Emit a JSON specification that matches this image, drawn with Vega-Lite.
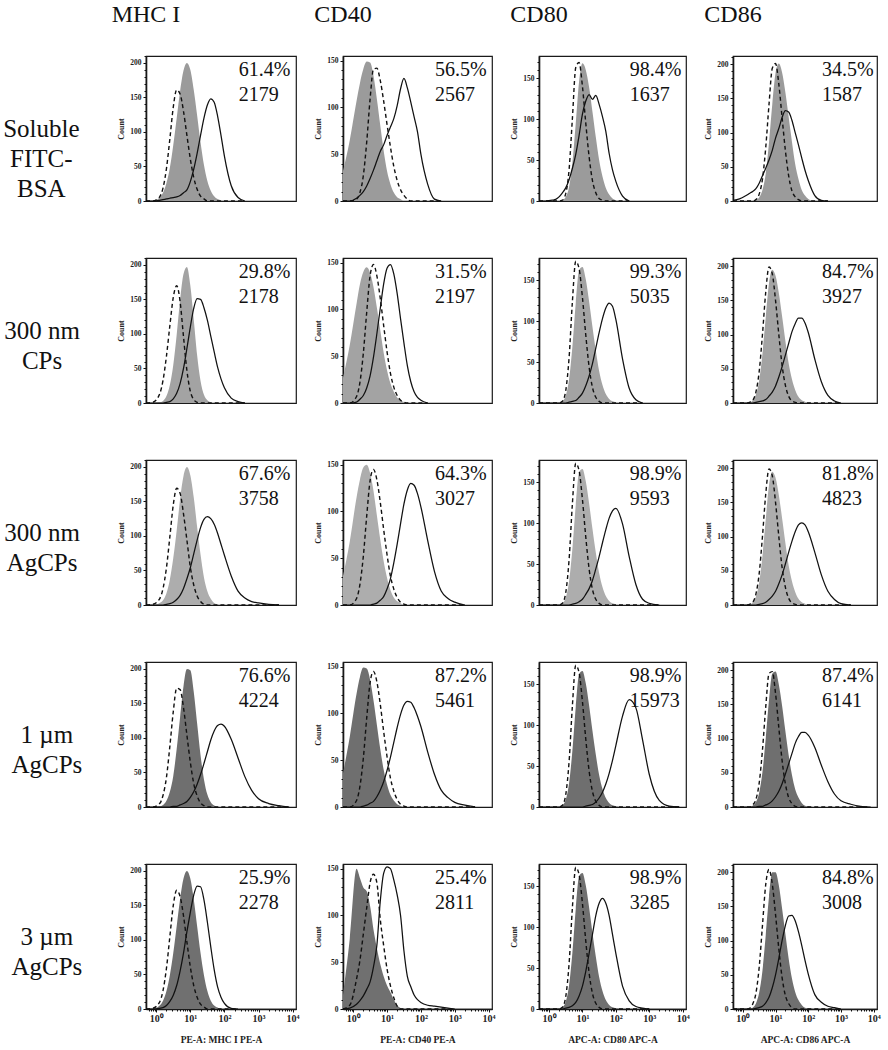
{
"$schema":"https://vega.github.io/schema/vega-lite/v6.json",
"padding":{"left":3,"top":3,"right":5,"bottom":0},
"spacing":14,
"datasets":{"h":[
{"r":1,"c":1,"x":-0.3,"f":0,"d":0,"o":0},{"r":1,"c":1,"x":-0.1,"f":0,"d":0,"o":0},{"r":1,"c":1,"x":0.1,"f":5,"d":6,"o":1},{"r":1,"c":1,"x":0.2,"f":12,"d":19,"o":2},{"r":1,"c":1,"x":0.3,"f":26,"d":47,"o":3},{"r":1,"c":1,"x":0.4,"f":48,"d":90,"o":4},{"r":1,"c":1,"x":0.5,"f":81,"d":136,"o":5},{"r":1,"c":1,"x":0.6,"f":120,"d":161,"o":6},{"r":1,"c":1,"x":0.7,"f":159,"d":155,"o":8},{"r":1,"c":1,"x":0.8,"f":189,"d":130,"o":12},{"r":1,"c":1,"x":0.9,"f":200,"d":95,"o":16},{"r":1,"c":1,"x":1.0,"f":190,"d":61,"o":28},{"r":1,"c":1,"x":1.1,"f":161,"d":34,"o":46},{"r":1,"c":1,"x":1.2,"f":124,"d":17,"o":69},{"r":1,"c":1,"x":1.3,"f":85,"d":7,"o":95},{"r":1,"c":1,"x":1.4,"f":52,"d":3,"o":120},{"r":1,"c":1,"x":1.5,"f":29,"d":0,"o":139},{"r":1,"c":1,"x":1.6,"f":15,"d":0,"o":148},{"r":1,"c":1,"x":1.7,"f":7,"d":0,"o":143},{"r":1,"c":1,"x":1.8,"f":3,"d":0,"o":123},{"r":1,"c":1,"x":1.9,"f":1,"d":0,"o":95},{"r":1,"c":1,"x":2.0,"f":0,"d":0,"o":65},{"r":1,"c":1,"x":2.2,"f":0,"d":0,"o":22},{"r":1,"c":1,"x":2.4,"f":0,"d":0,"o":5},{"r":1,"c":1,"x":2.6,"f":0,"d":0,"o":0},
{"r":1,"c":2,"x":-0.3,"f":32,"d":0,"o":0},{"r":1,"c":2,"x":-0.1,"f":65,"d":0,"o":0},{"r":1,"c":2,"x":0.1,"f":107,"d":2,"o":3},{"r":1,"c":2,"x":0.2,"f":126,"d":9,"o":6},{"r":1,"c":2,"x":0.3,"f":141,"d":27,"o":10},{"r":1,"c":2,"x":0.4,"f":149,"d":63,"o":16},{"r":1,"c":2,"x":0.5,"f":148,"d":109,"o":24},{"r":1,"c":2,"x":0.6,"f":134,"d":141,"o":33},{"r":1,"c":2,"x":0.7,"f":109,"d":142,"o":43},{"r":1,"c":2,"x":0.8,"f":81,"d":129,"o":53},{"r":1,"c":2,"x":0.9,"f":54,"d":107,"o":60},{"r":1,"c":2,"x":1.0,"f":32,"d":82,"o":70},{"r":1,"c":2,"x":1.1,"f":18,"d":58,"o":79},{"r":1,"c":2,"x":1.2,"f":9,"d":37,"o":88},{"r":1,"c":2,"x":1.3,"f":4,"d":22,"o":102},{"r":1,"c":2,"x":1.4,"f":2,"d":12,"o":120},{"r":1,"c":2,"x":1.5,"f":0,"d":6,"o":131},{"r":1,"c":2,"x":1.6,"f":0,"d":2,"o":121},{"r":1,"c":2,"x":1.7,"f":0,"d":0,"o":106},{"r":1,"c":2,"x":1.8,"f":0,"d":0,"o":90},{"r":1,"c":2,"x":1.9,"f":0,"d":0,"o":74},{"r":1,"c":2,"x":2.0,"f":0,"d":0,"o":50},{"r":1,"c":2,"x":2.2,"f":0,"d":0,"o":18},{"r":1,"c":2,"x":2.4,"f":0,"d":0,"o":2},{"r":1,"c":2,"x":2.6,"f":0,"d":0,"o":0},
{"r":1,"c":3,"x":-0.3,"f":0,"d":0,"o":0},{"r":1,"c":3,"x":-0.1,"f":0,"d":0,"o":0},{"r":1,"c":3,"x":0.1,"f":0,"d":0,"o":1},{"r":1,"c":3,"x":0.2,"f":0,"d":0,"o":2},{"r":1,"c":3,"x":0.3,"f":0,"d":0,"o":5},{"r":1,"c":3,"x":0.4,"f":1,"d":1,"o":10},{"r":1,"c":3,"x":0.5,"f":5,"d":9,"o":16},{"r":1,"c":3,"x":0.6,"f":17,"d":38,"o":26},{"r":1,"c":3,"x":0.7,"f":47,"d":101,"o":40},{"r":1,"c":3,"x":0.8,"f":95,"d":163,"o":57},{"r":1,"c":3,"x":0.9,"f":146,"d":169,"o":80},{"r":1,"c":3,"x":1.0,"f":168,"d":140,"o":106},{"r":1,"c":3,"x":1.1,"f":160,"d":95,"o":122},{"r":1,"c":3,"x":1.2,"f":139,"d":54,"o":130},{"r":1,"c":3,"x":1.3,"f":109,"d":25,"o":124},{"r":1,"c":3,"x":1.4,"f":78,"d":10,"o":129},{"r":1,"c":3,"x":1.5,"f":50,"d":3,"o":118},{"r":1,"c":3,"x":1.6,"f":30,"d":1,"o":103},{"r":1,"c":3,"x":1.7,"f":16,"d":0,"o":85},{"r":1,"c":3,"x":1.8,"f":8,"d":0,"o":58},{"r":1,"c":3,"x":1.9,"f":3,"d":0,"o":38},{"r":1,"c":3,"x":2.0,"f":1,"d":0,"o":24},{"r":1,"c":3,"x":2.2,"f":0,"d":0,"o":6},{"r":1,"c":3,"x":2.4,"f":0,"d":0,"o":0},
{"r":1,"c":4,"x":-0.3,"f":0,"d":0,"o":1},{"r":1,"c":4,"x":-0.1,"f":0,"d":0,"o":3},{"r":1,"c":4,"x":0.1,"f":0,"d":0,"o":8},{"r":1,"c":4,"x":0.2,"f":0,"d":0,"o":11},{"r":1,"c":4,"x":0.3,"f":0,"d":0,"o":14},{"r":1,"c":4,"x":0.4,"f":1,"d":2,"o":18},{"r":1,"c":4,"x":0.5,"f":5,"d":10,"o":26},{"r":1,"c":4,"x":0.6,"f":16,"d":32,"o":37},{"r":1,"c":4,"x":0.7,"f":40,"d":78,"o":48},{"r":1,"c":4,"x":0.8,"f":85,"d":141,"o":60},{"r":1,"c":4,"x":0.9,"f":141,"d":194,"o":74},{"r":1,"c":4,"x":1.0,"f":187,"d":201,"o":92},{"r":1,"c":4,"x":1.1,"f":201,"d":171,"o":106},{"r":1,"c":4,"x":1.2,"f":188,"d":122,"o":122},{"r":1,"c":4,"x":1.3,"f":159,"d":74,"o":132},{"r":1,"c":4,"x":1.4,"f":123,"d":37,"o":130},{"r":1,"c":4,"x":1.5,"f":87,"d":15,"o":118},{"r":1,"c":4,"x":1.6,"f":54,"d":6,"o":100},{"r":1,"c":4,"x":1.7,"f":32,"d":2,"o":82},{"r":1,"c":4,"x":1.8,"f":16,"d":0,"o":63},{"r":1,"c":4,"x":1.9,"f":8,"d":0,"o":45},{"r":1,"c":4,"x":2.0,"f":3,"d":0,"o":30},{"r":1,"c":4,"x":2.2,"f":0,"d":0,"o":8},{"r":1,"c":4,"x":2.4,"f":0,"d":0,"o":1},{"r":1,"c":4,"x":2.6,"f":0,"d":0,"o":0},
{"r":2,"c":1,"x":-0.3,"f":0,"d":0,"o":0},{"r":2,"c":1,"x":-0.1,"f":0,"d":1,"o":0},{"r":2,"c":1,"x":0.1,"f":1,"d":13,"o":0},{"r":2,"c":1,"x":0.2,"f":3,"d":33,"o":0},{"r":2,"c":1,"x":0.3,"f":10,"d":68,"o":1},{"r":2,"c":1,"x":0.4,"f":26,"d":112,"o":2},{"r":2,"c":1,"x":0.5,"f":55,"d":153,"o":6},{"r":2,"c":1,"x":0.6,"f":99,"d":170,"o":14},{"r":2,"c":1,"x":0.7,"f":149,"d":147,"o":28},{"r":2,"c":1,"x":0.8,"f":187,"d":96,"o":50},{"r":2,"c":1,"x":0.9,"f":197,"d":47,"o":79},{"r":2,"c":1,"x":1.0,"f":170,"d":17,"o":110},{"r":2,"c":1,"x":1.1,"f":121,"d":5,"o":137},{"r":2,"c":1,"x":1.2,"f":69,"d":1,"o":151},{"r":2,"c":1,"x":1.3,"f":32,"d":0,"o":150},{"r":2,"c":1,"x":1.4,"f":12,"d":0,"o":138},{"r":2,"c":1,"x":1.5,"f":4,"d":0,"o":120},{"r":2,"c":1,"x":1.6,"f":1,"d":0,"o":97},{"r":2,"c":1,"x":1.7,"f":0,"d":0,"o":74},{"r":2,"c":1,"x":1.8,"f":0,"d":0,"o":52},{"r":2,"c":1,"x":1.9,"f":0,"d":0,"o":35},{"r":2,"c":1,"x":2.0,"f":0,"d":0,"o":22},{"r":2,"c":1,"x":2.2,"f":0,"d":0,"o":7},{"r":2,"c":1,"x":2.4,"f":0,"d":0,"o":2},{"r":2,"c":1,"x":2.6,"f":0,"d":0,"o":0},
{"r":2,"c":2,"x":-0.3,"f":27,"d":0,"o":0},{"r":2,"c":2,"x":-0.1,"f":62,"d":0,"o":0},{"r":2,"c":2,"x":0.1,"f":106,"d":7,"o":1},{"r":2,"c":2,"x":0.2,"f":127,"d":22,"o":4},{"r":2,"c":2,"x":0.3,"f":140,"d":53,"o":8},{"r":2,"c":2,"x":0.4,"f":145,"d":97,"o":16},{"r":2,"c":2,"x":0.5,"f":139,"d":136,"o":29},{"r":2,"c":2,"x":0.6,"f":124,"d":148,"o":49},{"r":2,"c":2,"x":0.7,"f":102,"d":136,"o":74},{"r":2,"c":2,"x":0.8,"f":78,"d":112,"o":101},{"r":2,"c":2,"x":0.9,"f":54,"d":83,"o":127},{"r":2,"c":2,"x":1.0,"f":35,"d":55,"o":144},{"r":2,"c":2,"x":1.1,"f":21,"d":32,"o":148},{"r":2,"c":2,"x":1.2,"f":12,"d":17,"o":138},{"r":2,"c":2,"x":1.3,"f":6,"d":8,"o":117},{"r":2,"c":2,"x":1.4,"f":3,"d":3,"o":90},{"r":2,"c":2,"x":1.5,"f":1,"d":1,"o":64},{"r":2,"c":2,"x":1.6,"f":0,"d":0,"o":40},{"r":2,"c":2,"x":1.7,"f":0,"d":0,"o":23},{"r":2,"c":2,"x":1.8,"f":0,"d":0,"o":12},{"r":2,"c":2,"x":1.9,"f":0,"d":0,"o":6},{"r":2,"c":2,"x":2.0,"f":0,"d":0,"o":3},{"r":2,"c":2,"x":2.2,"f":0,"d":0,"o":0},
{"r":2,"c":3,"x":-0.3,"f":0,"d":0,"o":0},{"r":2,"c":3,"x":-0.1,"f":0,"d":0,"o":0},{"r":2,"c":3,"x":0.1,"f":0,"d":0,"o":0},{"r":2,"c":3,"x":0.2,"f":0,"d":0,"o":0},{"r":2,"c":3,"x":0.3,"f":0,"d":0,"o":0},{"r":2,"c":3,"x":0.4,"f":2,"d":2,"o":0},{"r":2,"c":3,"x":0.5,"f":9,"d":15,"o":0},{"r":2,"c":3,"x":0.6,"f":29,"d":55,"o":1},{"r":2,"c":3,"x":0.7,"f":69,"d":124,"o":2},{"r":2,"c":3,"x":0.8,"f":122,"d":173,"o":3},{"r":2,"c":3,"x":0.9,"f":162,"d":164,"o":7},{"r":2,"c":3,"x":1.0,"f":166,"d":129,"o":12},{"r":2,"c":3,"x":1.1,"f":151,"d":83,"o":21},{"r":2,"c":3,"x":1.2,"f":124,"d":44,"o":33},{"r":2,"c":3,"x":1.3,"f":93,"d":19,"o":48},{"r":2,"c":3,"x":1.4,"f":64,"d":7,"o":67},{"r":2,"c":3,"x":1.5,"f":39,"d":2,"o":86},{"r":2,"c":3,"x":1.6,"f":22,"d":0,"o":103},{"r":2,"c":3,"x":1.7,"f":11,"d":0,"o":116},{"r":2,"c":3,"x":1.8,"f":5,"d":0,"o":122},{"r":2,"c":3,"x":1.9,"f":2,"d":0,"o":118},{"r":2,"c":3,"x":2.0,"f":1,"d":0,"o":102},{"r":2,"c":3,"x":2.2,"f":0,"d":0,"o":54},{"r":2,"c":3,"x":2.4,"f":0,"d":0,"o":18},{"r":2,"c":3,"x":2.6,"f":0,"d":0,"o":4},{"r":2,"c":3,"x":2.8,"f":0,"d":0,"o":0},
{"r":2,"c":4,"x":-0.3,"f":0,"d":0,"o":0},{"r":2,"c":4,"x":-0.1,"f":0,"d":0,"o":0},{"r":2,"c":4,"x":0.1,"f":0,"d":0,"o":0},{"r":2,"c":4,"x":0.2,"f":0,"d":1,"o":0},{"r":2,"c":4,"x":0.3,"f":4,"d":4,"o":0},{"r":2,"c":4,"x":0.4,"f":12,"d":16,"o":1},{"r":2,"c":4,"x":0.5,"f":33,"d":46,"o":2},{"r":2,"c":4,"x":0.6,"f":72,"d":100,"o":3},{"r":2,"c":4,"x":0.7,"f":125,"d":162,"o":5},{"r":2,"c":4,"x":0.8,"f":175,"d":199,"o":10},{"r":2,"c":4,"x":0.9,"f":195,"d":189,"o":16},{"r":2,"c":4,"x":1.0,"f":186,"d":150,"o":25},{"r":2,"c":4,"x":1.1,"f":161,"d":100,"o":38},{"r":2,"c":4,"x":1.2,"f":127,"d":55,"o":53},{"r":2,"c":4,"x":1.3,"f":91,"d":26,"o":70},{"r":2,"c":4,"x":1.4,"f":58,"d":10,"o":87},{"r":2,"c":4,"x":1.5,"f":35,"d":3,"o":104},{"r":2,"c":4,"x":1.6,"f":19,"d":1,"o":116},{"r":2,"c":4,"x":1.7,"f":9,"d":0,"o":124},{"r":2,"c":4,"x":1.8,"f":4,"d":0,"o":124},{"r":2,"c":4,"x":1.9,"f":2,"d":0,"o":117},{"r":2,"c":4,"x":2.0,"f":0,"d":0,"o":103},{"r":2,"c":4,"x":2.2,"f":0,"d":0,"o":64},{"r":2,"c":4,"x":2.4,"f":0,"d":0,"o":31},{"r":2,"c":4,"x":2.6,"f":0,"d":0,"o":11},{"r":2,"c":4,"x":2.8,"f":0,"d":0,"o":3},{"r":2,"c":4,"x":3.0,"f":0,"d":0,"o":0},
{"r":3,"c":1,"x":-0.3,"f":0,"d":0,"o":0},{"r":3,"c":1,"x":-0.1,"f":0,"d":1,"o":0},{"r":3,"c":1,"x":0.1,"f":3,"d":9,"o":0},{"r":3,"c":1,"x":0.2,"f":7,"d":24,"o":0},{"r":3,"c":1,"x":0.3,"f":17,"d":54,"o":1},{"r":3,"c":1,"x":0.4,"f":37,"d":99,"o":2},{"r":3,"c":1,"x":0.5,"f":68,"d":145,"o":4},{"r":3,"c":1,"x":0.6,"f":108,"d":169,"o":8},{"r":3,"c":1,"x":0.7,"f":153,"d":162,"o":14},{"r":3,"c":1,"x":0.8,"f":187,"d":132,"o":24},{"r":3,"c":1,"x":0.9,"f":200,"d":94,"o":38},{"r":3,"c":1,"x":1.0,"f":188,"d":55,"o":54},{"r":3,"c":1,"x":1.1,"f":156,"d":29,"o":74},{"r":3,"c":1,"x":1.2,"f":113,"d":13,"o":94},{"r":3,"c":1,"x":1.3,"f":73,"d":5,"o":112},{"r":3,"c":1,"x":1.4,"f":40,"d":1,"o":124},{"r":3,"c":1,"x":1.5,"f":20,"d":0,"o":128},{"r":3,"c":1,"x":1.6,"f":9,"d":0,"o":125},{"r":3,"c":1,"x":1.7,"f":3,"d":0,"o":117},{"r":3,"c":1,"x":1.8,"f":1,"d":0,"o":104},{"r":3,"c":1,"x":1.9,"f":0,"d":0,"o":88},{"r":3,"c":1,"x":2.0,"f":0,"d":0,"o":72},{"r":3,"c":1,"x":2.2,"f":0,"d":0,"o":42},{"r":3,"c":1,"x":2.4,"f":0,"d":0,"o":20},{"r":3,"c":1,"x":2.6,"f":0,"d":0,"o":10},{"r":3,"c":1,"x":2.8,"f":0,"d":0,"o":5},{"r":3,"c":1,"x":3.0,"f":0,"d":0,"o":3},{"r":3,"c":1,"x":3.3,"f":0,"d":0,"o":1},{"r":3,"c":1,"x":3.6,"f":0,"d":0,"o":0},
{"r":3,"c":2,"x":-0.3,"f":31,"d":0,"o":0},{"r":3,"c":2,"x":-0.1,"f":68,"d":0,"o":0},{"r":3,"c":2,"x":0.1,"f":115,"d":7,"o":0},{"r":3,"c":2,"x":0.2,"f":134,"d":22,"o":0},{"r":3,"c":2,"x":0.3,"f":147,"d":52,"o":0},{"r":3,"c":2,"x":0.4,"f":150,"d":95,"o":0},{"r":3,"c":2,"x":0.5,"f":141,"d":133,"o":0},{"r":3,"c":2,"x":0.6,"f":122,"d":145,"o":1},{"r":3,"c":2,"x":0.7,"f":96,"d":134,"o":2},{"r":3,"c":2,"x":0.8,"f":70,"d":110,"o":5},{"r":3,"c":2,"x":0.9,"f":47,"d":81,"o":9},{"r":3,"c":2,"x":1.0,"f":29,"d":54,"o":17},{"r":3,"c":2,"x":1.1,"f":16,"d":31,"o":28},{"r":3,"c":2,"x":1.2,"f":8,"d":17,"o":45},{"r":3,"c":2,"x":1.3,"f":4,"d":8,"o":65},{"r":3,"c":2,"x":1.4,"f":2,"d":3,"o":87},{"r":3,"c":2,"x":1.5,"f":0,"d":1,"o":108},{"r":3,"c":2,"x":1.6,"f":0,"d":0,"o":123},{"r":3,"c":2,"x":1.7,"f":0,"d":0,"o":130},{"r":3,"c":2,"x":1.8,"f":0,"d":0,"o":128},{"r":3,"c":2,"x":1.9,"f":0,"d":0,"o":119},{"r":3,"c":2,"x":2.0,"f":0,"d":0,"o":105},{"r":3,"c":2,"x":2.2,"f":0,"d":0,"o":69},{"r":3,"c":2,"x":2.4,"f":0,"d":0,"o":36},{"r":3,"c":2,"x":2.6,"f":0,"d":0,"o":15},{"r":3,"c":2,"x":2.8,"f":0,"d":0,"o":7},{"r":3,"c":2,"x":3.0,"f":0,"d":0,"o":3},{"r":3,"c":2,"x":3.3,"f":0,"d":0,"o":0},
{"r":3,"c":3,"x":-0.3,"f":0,"d":0,"o":0},{"r":3,"c":3,"x":-0.1,"f":0,"d":0,"o":0},{"r":3,"c":3,"x":0.1,"f":0,"d":0,"o":0},{"r":3,"c":3,"x":0.2,"f":0,"d":0,"o":0},{"r":3,"c":3,"x":0.3,"f":0,"d":0,"o":0},{"r":3,"c":3,"x":0.4,"f":2,"d":2,"o":0},{"r":3,"c":3,"x":0.5,"f":9,"d":15,"o":0},{"r":3,"c":3,"x":0.6,"f":29,"d":55,"o":0},{"r":3,"c":3,"x":0.7,"f":69,"d":124,"o":1},{"r":3,"c":3,"x":0.8,"f":122,"d":173,"o":2},{"r":3,"c":3,"x":0.9,"f":162,"d":164,"o":4},{"r":3,"c":3,"x":1.0,"f":166,"d":129,"o":7},{"r":3,"c":3,"x":1.1,"f":151,"d":83,"o":13},{"r":3,"c":3,"x":1.2,"f":124,"d":44,"o":20},{"r":3,"c":3,"x":1.3,"f":93,"d":19,"o":30},{"r":3,"c":3,"x":1.4,"f":64,"d":7,"o":44},{"r":3,"c":3,"x":1.5,"f":39,"d":2,"o":59},{"r":3,"c":3,"x":1.6,"f":22,"d":0,"o":76},{"r":3,"c":3,"x":1.7,"f":11,"d":0,"o":92},{"r":3,"c":3,"x":1.8,"f":5,"d":0,"o":106},{"r":3,"c":3,"x":1.9,"f":2,"d":0,"o":115},{"r":3,"c":3,"x":2.0,"f":1,"d":0,"o":118},{"r":3,"c":3,"x":2.2,"f":0,"d":0,"o":99},{"r":3,"c":3,"x":2.4,"f":0,"d":0,"o":59},{"r":3,"c":3,"x":2.6,"f":0,"d":0,"o":25},{"r":3,"c":3,"x":2.8,"f":0,"d":0,"o":7},{"r":3,"c":3,"x":3.0,"f":0,"d":0,"o":2},{"r":3,"c":3,"x":3.3,"f":0,"d":0,"o":0},
{"r":3,"c":4,"x":-0.3,"f":0,"d":0,"o":0},{"r":3,"c":4,"x":-0.1,"f":0,"d":0,"o":0},{"r":3,"c":4,"x":0.1,"f":0,"d":0,"o":0},{"r":3,"c":4,"x":0.2,"f":0,"d":1,"o":0},{"r":3,"c":4,"x":0.3,"f":4,"d":4,"o":0},{"r":3,"c":4,"x":0.4,"f":12,"d":16,"o":0},{"r":3,"c":4,"x":0.5,"f":33,"d":46,"o":1},{"r":3,"c":4,"x":0.6,"f":72,"d":100,"o":2},{"r":3,"c":4,"x":0.7,"f":125,"d":162,"o":4},{"r":3,"c":4,"x":0.8,"f":175,"d":199,"o":8},{"r":3,"c":4,"x":0.9,"f":195,"d":189,"o":13},{"r":3,"c":4,"x":1.0,"f":186,"d":150,"o":20},{"r":3,"c":4,"x":1.1,"f":161,"d":100,"o":31},{"r":3,"c":4,"x":1.2,"f":127,"d":55,"o":44},{"r":3,"c":4,"x":1.3,"f":91,"d":26,"o":60},{"r":3,"c":4,"x":1.4,"f":58,"d":10,"o":77},{"r":3,"c":4,"x":1.5,"f":35,"d":3,"o":93},{"r":3,"c":4,"x":1.6,"f":19,"d":1,"o":107},{"r":3,"c":4,"x":1.7,"f":9,"d":0,"o":117},{"r":3,"c":4,"x":1.8,"f":4,"d":0,"o":120},{"r":3,"c":4,"x":1.9,"f":2,"d":0,"o":117},{"r":3,"c":4,"x":2.0,"f":0,"d":0,"o":107},{"r":3,"c":4,"x":2.2,"f":0,"d":0,"o":77},{"r":3,"c":4,"x":2.4,"f":0,"d":0,"o":44},{"r":3,"c":4,"x":2.6,"f":0,"d":0,"o":20},{"r":3,"c":4,"x":2.8,"f":0,"d":0,"o":8},{"r":3,"c":4,"x":3.0,"f":0,"d":0,"o":2},{"r":3,"c":4,"x":3.3,"f":0,"d":0,"o":0},
{"r":4,"c":1,"x":-0.3,"f":0,"d":0,"o":0},{"r":4,"c":1,"x":-0.1,"f":0,"d":0,"o":0},{"r":4,"c":1,"x":0.1,"f":1,"d":5,"o":0},{"r":4,"c":1,"x":0.2,"f":3,"d":17,"o":0},{"r":4,"c":1,"x":0.3,"f":9,"d":43,"o":0},{"r":4,"c":1,"x":0.4,"f":22,"d":88,"o":0},{"r":4,"c":1,"x":0.5,"f":45,"d":138,"o":1},{"r":4,"c":1,"x":0.6,"f":84,"d":172,"o":1},{"r":4,"c":1,"x":0.7,"f":130,"d":170,"o":3},{"r":4,"c":1,"x":0.8,"f":175,"d":144,"o":5},{"r":4,"c":1,"x":0.9,"f":200,"d":104,"o":8},{"r":4,"c":1,"x":1.0,"f":198,"d":65,"o":14},{"r":4,"c":1,"x":1.1,"f":167,"d":34,"o":22},{"r":4,"c":1,"x":1.2,"f":121,"d":16,"o":33},{"r":4,"c":1,"x":1.3,"f":75,"d":6,"o":47},{"r":4,"c":1,"x":1.4,"f":40,"d":2,"o":63},{"r":4,"c":1,"x":1.5,"f":18,"d":0,"o":80},{"r":4,"c":1,"x":1.6,"f":7,"d":0,"o":97},{"r":4,"c":1,"x":1.7,"f":2,"d":0,"o":110},{"r":4,"c":1,"x":1.8,"f":0,"d":0,"o":118},{"r":4,"c":1,"x":1.9,"f":0,"d":0,"o":120},{"r":4,"c":1,"x":2.0,"f":0,"d":0,"o":117},{"r":4,"c":1,"x":2.2,"f":0,"d":0,"o":98},{"r":4,"c":1,"x":2.4,"f":0,"d":0,"o":71},{"r":4,"c":1,"x":2.6,"f":0,"d":0,"o":44},{"r":4,"c":1,"x":2.8,"f":0,"d":0,"o":24},{"r":4,"c":1,"x":3.0,"f":0,"d":0,"o":12},{"r":4,"c":1,"x":3.3,"f":0,"d":0,"o":5},{"r":4,"c":1,"x":3.6,"f":0,"d":0,"o":2},{"r":4,"c":1,"x":3.9,"f":0,"d":0,"o":0},
{"r":4,"c":2,"x":-0.3,"f":36,"d":0,"o":0},{"r":4,"c":2,"x":-0.1,"f":75,"d":0,"o":0},{"r":4,"c":2,"x":0.1,"f":121,"d":7,"o":0},{"r":4,"c":2,"x":0.2,"f":139,"d":22,"o":0},{"r":4,"c":2,"x":0.3,"f":149,"d":52,"o":1},{"r":4,"c":2,"x":0.4,"f":148,"d":95,"o":2},{"r":4,"c":2,"x":0.5,"f":136,"d":133,"o":4},{"r":4,"c":2,"x":0.6,"f":114,"d":145,"o":6},{"r":4,"c":2,"x":0.7,"f":88,"d":134,"o":11},{"r":4,"c":2,"x":0.8,"f":62,"d":110,"o":18},{"r":4,"c":2,"x":0.9,"f":40,"d":81,"o":27},{"r":4,"c":2,"x":1.0,"f":24,"d":54,"o":39},{"r":4,"c":2,"x":1.1,"f":13,"d":31,"o":53},{"r":4,"c":2,"x":1.2,"f":7,"d":17,"o":69},{"r":4,"c":2,"x":1.3,"f":3,"d":8,"o":85},{"r":4,"c":2,"x":1.4,"f":1,"d":3,"o":99},{"r":4,"c":2,"x":1.5,"f":0,"d":1,"o":109},{"r":4,"c":2,"x":1.6,"f":0,"d":0,"o":113},{"r":4,"c":2,"x":1.7,"f":0,"d":0,"o":112},{"r":4,"c":2,"x":1.8,"f":0,"d":0,"o":106},{"r":4,"c":2,"x":1.9,"f":0,"d":0,"o":97},{"r":4,"c":2,"x":2.0,"f":0,"d":0,"o":86},{"r":4,"c":2,"x":2.2,"f":0,"d":0,"o":59},{"r":4,"c":2,"x":2.4,"f":0,"d":0,"o":35},{"r":4,"c":2,"x":2.6,"f":0,"d":0,"o":18},{"r":4,"c":2,"x":2.8,"f":0,"d":0,"o":10},{"r":4,"c":2,"x":3.0,"f":0,"d":0,"o":5},{"r":4,"c":2,"x":3.3,"f":0,"d":0,"o":2},{"r":4,"c":2,"x":3.6,"f":0,"d":0,"o":0},
{"r":4,"c":3,"x":-0.3,"f":0,"d":0,"o":0},{"r":4,"c":3,"x":-0.1,"f":0,"d":0,"o":0},{"r":4,"c":3,"x":0.1,"f":0,"d":0,"o":0},{"r":4,"c":3,"x":0.2,"f":0,"d":0,"o":0},{"r":4,"c":3,"x":0.3,"f":0,"d":0,"o":0},{"r":4,"c":3,"x":0.4,"f":2,"d":2,"o":0},{"r":4,"c":3,"x":0.5,"f":9,"d":15,"o":0},{"r":4,"c":3,"x":0.6,"f":29,"d":55,"o":0},{"r":4,"c":3,"x":0.7,"f":69,"d":124,"o":0},{"r":4,"c":3,"x":0.8,"f":122,"d":173,"o":0},{"r":4,"c":3,"x":0.9,"f":162,"d":164,"o":0},{"r":4,"c":3,"x":1.0,"f":166,"d":129,"o":0},{"r":4,"c":3,"x":1.1,"f":151,"d":83,"o":1},{"r":4,"c":3,"x":1.2,"f":124,"d":44,"o":2},{"r":4,"c":3,"x":1.3,"f":93,"d":19,"o":3},{"r":4,"c":3,"x":1.4,"f":64,"d":7,"o":6},{"r":4,"c":3,"x":1.5,"f":39,"d":2,"o":11},{"r":4,"c":3,"x":1.6,"f":22,"d":0,"o":18},{"r":4,"c":3,"x":1.7,"f":11,"d":0,"o":28},{"r":4,"c":3,"x":1.8,"f":5,"d":0,"o":41},{"r":4,"c":3,"x":1.9,"f":2,"d":0,"o":57},{"r":4,"c":3,"x":2.0,"f":1,"d":0,"o":75},{"r":4,"c":3,"x":2.2,"f":0,"d":0,"o":111},{"r":4,"c":3,"x":2.4,"f":0,"d":0,"o":131},{"r":4,"c":3,"x":2.6,"f":0,"d":0,"o":121},{"r":4,"c":3,"x":2.8,"f":0,"d":0,"o":82},{"r":4,"c":3,"x":3.0,"f":0,"d":0,"o":40},{"r":4,"c":3,"x":3.3,"f":0,"d":0,"o":8},{"r":4,"c":3,"x":3.6,"f":0,"d":0,"o":1},{"r":4,"c":3,"x":3.9,"f":0,"d":0,"o":0},
{"r":4,"c":4,"x":-0.3,"f":0,"d":0,"o":0},{"r":4,"c":4,"x":-0.1,"f":0,"d":0,"o":0},{"r":4,"c":4,"x":0.1,"f":0,"d":0,"o":0},{"r":4,"c":4,"x":0.2,"f":0,"d":0,"o":0},{"r":4,"c":4,"x":0.3,"f":2,"d":3,"o":0},{"r":4,"c":4,"x":0.4,"f":7,"d":11,"o":0},{"r":4,"c":4,"x":0.5,"f":21,"d":35,"o":1},{"r":4,"c":4,"x":0.6,"f":51,"d":83,"o":1},{"r":4,"c":4,"x":0.7,"f":100,"d":146,"o":3},{"r":4,"c":4,"x":0.8,"f":156,"d":195,"o":5},{"r":4,"c":4,"x":0.9,"f":195,"d":198,"o":9},{"r":4,"c":4,"x":1.0,"f":198,"d":166,"o":15},{"r":4,"c":4,"x":1.1,"f":179,"d":116,"o":23},{"r":4,"c":4,"x":1.2,"f":148,"d":68,"o":34},{"r":4,"c":4,"x":1.3,"f":111,"d":34,"o":48},{"r":4,"c":4,"x":1.4,"f":76,"d":14,"o":63},{"r":4,"c":4,"x":1.5,"f":47,"d":5,"o":78},{"r":4,"c":4,"x":1.6,"f":26,"d":1,"o":93},{"r":4,"c":4,"x":1.7,"f":14,"d":0,"o":103},{"r":4,"c":4,"x":1.8,"f":6,"d":0,"o":109},{"r":4,"c":4,"x":1.9,"f":2,"d":0,"o":109},{"r":4,"c":4,"x":2.0,"f":1,"d":0,"o":105},{"r":4,"c":4,"x":2.2,"f":0,"d":0,"o":87},{"r":4,"c":4,"x":2.4,"f":0,"d":0,"o":61},{"r":4,"c":4,"x":2.6,"f":0,"d":0,"o":37},{"r":4,"c":4,"x":2.8,"f":0,"d":0,"o":19},{"r":4,"c":4,"x":3.0,"f":0,"d":0,"o":9},{"r":4,"c":4,"x":3.3,"f":0,"d":0,"o":4},{"r":4,"c":4,"x":3.6,"f":0,"d":0,"o":1},{"r":4,"c":4,"x":3.9,"f":0,"d":0,"o":0},
{"r":5,"c":1,"x":-0.3,"f":0,"d":0,"o":0},{"r":5,"c":1,"x":-0.1,"f":0,"d":1,"o":0},{"r":5,"c":1,"x":0.1,"f":5,"d":10,"o":1},{"r":5,"c":1,"x":0.2,"f":12,"d":27,"o":2},{"r":5,"c":1,"x":0.3,"f":26,"d":59,"o":5},{"r":5,"c":1,"x":0.4,"f":49,"d":105,"o":11},{"r":5,"c":1,"x":0.5,"f":81,"d":150,"o":20},{"r":5,"c":1,"x":0.6,"f":120,"d":172,"o":34},{"r":5,"c":1,"x":0.7,"f":159,"d":163,"o":55},{"r":5,"c":1,"x":0.8,"f":189,"d":135,"o":81},{"r":5,"c":1,"x":0.9,"f":200,"d":97,"o":112},{"r":5,"c":1,"x":1.0,"f":189,"d":61,"o":140},{"r":5,"c":1,"x":1.1,"f":159,"d":34,"o":165},{"r":5,"c":1,"x":1.2,"f":120,"d":17,"o":178},{"r":5,"c":1,"x":1.3,"f":81,"d":7,"o":177},{"r":5,"c":1,"x":1.4,"f":49,"d":3,"o":158},{"r":5,"c":1,"x":1.5,"f":26,"d":0,"o":126},{"r":5,"c":1,"x":1.6,"f":12,"d":0,"o":90},{"r":5,"c":1,"x":1.7,"f":5,"d":0,"o":57},{"r":5,"c":1,"x":1.8,"f":2,"d":0,"o":32},{"r":5,"c":1,"x":1.9,"f":0,"d":0,"o":17},{"r":5,"c":1,"x":2.0,"f":0,"d":0,"o":8},{"r":5,"c":1,"x":2.2,"f":0,"d":0,"o":1},{"r":5,"c":1,"x":2.4,"f":0,"d":0,"o":0},
{"r":5,"c":2,"x":-0.3,"f":15,"d":0,"o":0},{"r":5,"c":2,"x":-0.1,"f":75,"d":4,"o":1},{"r":5,"c":2,"x":0.1,"f":150,"d":32,"o":5},{"r":5,"c":2,"x":0.2,"f":140,"d":52,"o":9},{"r":5,"c":2,"x":0.3,"f":130,"d":80,"o":14},{"r":5,"c":2,"x":0.4,"f":126,"d":108,"o":21},{"r":5,"c":2,"x":0.5,"f":110,"d":135,"o":29},{"r":5,"c":2,"x":0.6,"f":85,"d":144,"o":45},{"r":5,"c":2,"x":0.7,"f":65,"d":135,"o":68},{"r":5,"c":2,"x":0.8,"f":48,"d":96,"o":115},{"r":5,"c":2,"x":0.9,"f":35,"d":68,"o":145},{"r":5,"c":2,"x":1.0,"f":25,"d":43,"o":152},{"r":5,"c":2,"x":1.1,"f":18,"d":25,"o":150},{"r":5,"c":2,"x":1.2,"f":10,"d":12,"o":138},{"r":5,"c":2,"x":1.3,"f":4,"d":3,"o":122},{"r":5,"c":2,"x":1.4,"f":1,"d":0,"o":100},{"r":5,"c":2,"x":1.5,"f":0,"d":0,"o":62},{"r":5,"c":2,"x":1.6,"f":0,"d":0,"o":35},{"r":5,"c":2,"x":1.7,"f":0,"d":0,"o":24},{"r":5,"c":2,"x":1.8,"f":0,"d":0,"o":15},{"r":5,"c":2,"x":1.9,"f":0,"d":0,"o":10},{"r":5,"c":2,"x":2.0,"f":0,"d":0,"o":7},{"r":5,"c":2,"x":2.2,"f":0,"d":0,"o":4},{"r":5,"c":2,"x":2.4,"f":0,"d":0,"o":3},{"r":5,"c":2,"x":2.6,"f":0,"d":0,"o":2},{"r":5,"c":2,"x":2.8,"f":0,"d":0,"o":1},{"r":5,"c":2,"x":3.0,"f":0,"d":0,"o":0},
{"r":5,"c":3,"x":-0.3,"f":0,"d":0,"o":0},{"r":5,"c":3,"x":-0.1,"f":0,"d":0,"o":0},{"r":5,"c":3,"x":0.1,"f":0,"d":0,"o":0},{"r":5,"c":3,"x":0.2,"f":0,"d":0,"o":0},{"r":5,"c":3,"x":0.3,"f":0,"d":0,"o":0},{"r":5,"c":3,"x":0.4,"f":2,"d":2,"o":0},{"r":5,"c":3,"x":0.5,"f":9,"d":15,"o":1},{"r":5,"c":3,"x":0.6,"f":29,"d":55,"o":2},{"r":5,"c":3,"x":0.7,"f":69,"d":124,"o":4},{"r":5,"c":3,"x":0.8,"f":122,"d":173,"o":8},{"r":5,"c":3,"x":0.9,"f":162,"d":164,"o":16},{"r":5,"c":3,"x":1.0,"f":166,"d":129,"o":28},{"r":5,"c":3,"x":1.1,"f":151,"d":83,"o":46},{"r":5,"c":3,"x":1.2,"f":124,"d":44,"o":68},{"r":5,"c":3,"x":1.3,"f":93,"d":19,"o":91},{"r":5,"c":3,"x":1.4,"f":64,"d":7,"o":114},{"r":5,"c":3,"x":1.5,"f":39,"d":2,"o":129},{"r":5,"c":3,"x":1.6,"f":22,"d":0,"o":135},{"r":5,"c":3,"x":1.7,"f":11,"d":0,"o":129},{"r":5,"c":3,"x":1.8,"f":5,"d":0,"o":114},{"r":5,"c":3,"x":1.9,"f":2,"d":0,"o":91},{"r":5,"c":3,"x":2.0,"f":1,"d":0,"o":68},{"r":5,"c":3,"x":2.2,"f":0,"d":0,"o":28},{"r":5,"c":3,"x":2.4,"f":0,"d":0,"o":10},{"r":5,"c":3,"x":2.6,"f":0,"d":0,"o":3},{"r":5,"c":3,"x":2.8,"f":0,"d":0,"o":1},{"r":5,"c":3,"x":3.0,"f":0,"d":0,"o":0},
{"r":5,"c":4,"x":-0.3,"f":0,"d":0,"o":0},{"r":5,"c":4,"x":-0.1,"f":0,"d":0,"o":0},{"r":5,"c":4,"x":0.1,"f":0,"d":0,"o":0},{"r":5,"c":4,"x":0.2,"f":0,"d":1,"o":0},{"r":5,"c":4,"x":0.3,"f":2,"d":7,"o":0},{"r":5,"c":4,"x":0.4,"f":8,"d":23,"o":1},{"r":5,"c":4,"x":0.5,"f":24,"d":61,"o":2},{"r":5,"c":4,"x":0.6,"f":56,"d":122,"o":4},{"r":5,"c":4,"x":0.7,"f":108,"d":182,"o":9},{"r":5,"c":4,"x":0.8,"f":164,"d":204,"o":17},{"r":5,"c":4,"x":0.9,"f":200,"d":183,"o":31},{"r":5,"c":4,"x":1.0,"f":200,"d":138,"o":50},{"r":5,"c":4,"x":1.1,"f":181,"d":88,"o":74},{"r":5,"c":4,"x":1.2,"f":147,"d":46,"o":100},{"r":5,"c":4,"x":1.3,"f":110,"d":20,"o":122},{"r":5,"c":4,"x":1.4,"f":74,"d":8,"o":136},{"r":5,"c":4,"x":1.5,"f":45,"d":2,"o":137},{"r":5,"c":4,"x":1.6,"f":25,"d":0,"o":129},{"r":5,"c":4,"x":1.7,"f":13,"d":0,"o":113},{"r":5,"c":4,"x":1.8,"f":6,"d":0,"o":93},{"r":5,"c":4,"x":1.9,"f":2,"d":0,"o":71},{"r":5,"c":4,"x":2.0,"f":1,"d":0,"o":51},{"r":5,"c":4,"x":2.2,"f":0,"d":0,"o":21},{"r":5,"c":4,"x":2.4,"f":0,"d":0,"o":10},{"r":5,"c":4,"x":2.6,"f":0,"d":0,"o":4},{"r":5,"c":4,"x":2.8,"f":0,"d":0,"o":2},{"r":5,"c":4,"x":3.0,"f":0,"d":0,"o":0},
{"r":1,"c":1,"pct":"61.4%","mfi":"2179"},{"r":1,"c":2,"pct":"56.5%","mfi":"2567"},{"r":1,"c":3,"pct":"98.4%","mfi":"1637"},{"r":1,"c":4,"pct":"34.5%","mfi":"1587"},
{"r":2,"c":1,"pct":"29.8%","mfi":"2178"},{"r":2,"c":2,"pct":"31.5%","mfi":"2197"},{"r":2,"c":3,"pct":"99.3%","mfi":"5035"},{"r":2,"c":4,"pct":"84.7%","mfi":"3927"},
{"r":3,"c":1,"pct":"67.6%","mfi":"3758"},{"r":3,"c":2,"pct":"64.3%","mfi":"3027"},{"r":3,"c":3,"pct":"98.9%","mfi":"9593"},{"r":3,"c":4,"pct":"81.8%","mfi":"4823"},
{"r":4,"c":1,"pct":"76.6%","mfi":"4224"},{"r":4,"c":2,"pct":"87.2%","mfi":"5461"},{"r":4,"c":3,"pct":"98.9%","mfi":"15973"},{"r":4,"c":4,"pct":"87.4%","mfi":"6141"},
{"r":5,"c":1,"pct":"25.9%","mfi":"2278"},{"r":5,"c":2,"pct":"25.4%","mfi":"2811"},{"r":5,"c":3,"pct":"98.9%","mfi":"3285"},{"r":5,"c":4,"pct":"84.8%","mfi":"3008"}
]},
"config":{
"font":"Liberation Serif",
"view":{"stroke":"#1a1a1a","strokeWidth":1.2},
"axis":{"domainColor":"#111","domainWidth":1.6,"tickColor":"#111","tickWidth":1,"tickSize":3,"grid":false,"labelFont":"Liberation Serif","labelFontWeight":"bold","labelColor":"#222","titleFont":"Liberation Serif","titleFontWeight":"bold","titleColor":"#222"},
"axisX":{"labelFontSize":10,"labelPadding":1,"titleFontSize":9.5,"titlePadding":11,"labelFlush":false},
"axisY":{"labelFontSize":7.5,"labelPadding":2,"titleFontSize":8,"titlePadding":4},
"title":{"font":"Liberation Serif","fontSize":24,"fontWeight":"normal","color":"#111","offset":28,"anchor":"middle","frame":"group"}
},
"hconcat":[
{"data":{"name":"h"},"transform":[{"filter":"datum.c == 1"}],"title":{"text":"MHC I"},"bounds":"flush","spacing":{"row":57},
"facet":{"row":{"field":"r","type":"ordinal","title":null,"header":{"labelExpr":"datum.value == 1 ? ['Soluble','FITC-','BSA'] : datum.value == 2 ? ['300 nm','CPs'] : datum.value == 3 ? ['300 nm','AgCPs'] : datum.value == 4 ? ['1 µm','AgCPs'] : ['3 µm','AgCPs']","labelOrient":"left","labelAngle":0,"labelAlign":"center","labelBaseline":"middle","labelFont":"Liberation Serif","labelFontSize":25,"labelLineHeight":30,"labelPadding":0,"labelColor":"#111"}}},
"spec":{"width":150,"height":145,"resolve":{"axis":{"x":"independent","y":"independent"}},
"layer":[
{"transform":[{"filter":"isValid(datum.x)"}],"mark":{"type":"area","interpolate":"monotone"},"encoding":{"x":{"field":"x","type":"quantitative","scale":{"domain":[-0.3,4.1],"nice":false,"zero":false},"axis":{"values":[0,1,2,3,4],"labelExpr":"'10' + (datum.value == 0 ? '⁰' : datum.value == 1 ? '¹' : datum.value == 2 ? '²' : datum.value == 3 ? '³' : '⁴')","title":"PE-A: MHC I PE-A"}},"y":{"field":"f","type":"quantitative","scale":{"domain":[0,210],"nice":false},"axis":{"values":[0,50,100,150,200],"title":"Count"}},"color":{"field":"r","type":"ordinal","scale":{"domain":[1,2,3,4,5],"range":["#9b9b9b","#a3a3a3","#adadad","#6f6f6f","#707070"]},"legend":null}}},
{"transform":[{"filter":"isValid(datum.x)"}],"mark":{"type":"line","interpolate":"monotone","color":"#111","strokeWidth":1.4,"strokeDash":[4,3]},"encoding":{"x":{"field":"x","type":"quantitative","axis":{"orient":"bottom","values":[-0.301,-0.222,-0.155,-0.097,-0.046,0,0.301,0.477,0.602,0.699,0.778,0.845,0.903,0.954,1,1.301,1.477,1.602,1.699,1.778,1.845,1.903,1.954,2,2.301,2.477,2.602,2.699,2.778,2.845,2.903,2.954,3,3.301,3.477,3.602,3.699,3.778,3.845,3.903,3.954,4],"labels":false,"domain":false,"tickSize":2,"title":null}},"y":{"field":"d","type":"quantitative","axis":{"orient":"left","values":[0,10,20,30,40,50,60,70,80,90,100,110,120,130,140,150,160,170,180,190,200,210],"labels":false,"domain":false,"tickSize":2,"title":null}}}},
{"transform":[{"filter":"isValid(datum.x)"}],"mark":{"type":"line","interpolate":"monotone","color":"#111","strokeWidth":1.25},"encoding":{"x":{"field":"x","type":"quantitative","axis":null},"y":{"field":"o","type":"quantitative","axis":null}}},
{"transform":[{"filter":"isValid(datum.pct)"}],"mark":{"type":"text","align":"left","baseline":"alphabetic","font":"Liberation Serif","fontSize":20,"color":"#111"},"encoding":{"x":{"datum":2.42,"axis":null},"y":{"datum":181,"axis":null},"text":{"field":"pct"}}},
{"transform":[{"filter":"isValid(datum.pct)"}],"mark":{"type":"text","align":"left","baseline":"alphabetic","font":"Liberation Serif","fontSize":20,"color":"#111"},"encoding":{"x":{"datum":2.42,"axis":null},"y":{"datum":145,"axis":null},"text":{"field":"mfi"}}}
]}},
{"data":{"name":"h"},"transform":[{"filter":"datum.c == 2"}],"title":{"text":"CD40"},"bounds":"flush","spacing":{"row":57},
"facet":{"row":{"field":"r","type":"ordinal","title":null,"header":{"labels":false}}},
"spec":{"width":149,"height":145,"resolve":{"axis":{"x":"independent","y":"independent"}},
"layer":[
{"transform":[{"filter":"isValid(datum.x)"}],"mark":{"type":"area","interpolate":"monotone"},"encoding":{"x":{"field":"x","type":"quantitative","scale":{"domain":[-0.3,4.1],"nice":false,"zero":false},"axis":{"values":[0,1,2,3,4],"labelExpr":"'10' + (datum.value == 0 ? '⁰' : datum.value == 1 ? '¹' : datum.value == 2 ? '²' : datum.value == 3 ? '³' : '⁴')","title":"PE-A: CD40 PE-A"}},"y":{"field":"f","type":"quantitative","scale":{"domain":[0,155],"nice":false},"axis":{"values":[0,50,100,150],"title":"Count"}},"color":{"field":"r","type":"ordinal","scale":{"domain":[1,2,3,4,5],"range":["#9a9a9a","#7b7b7b","#787878","#6f6f6f","#6f6f6f"]},"legend":null}}},
{"transform":[{"filter":"isValid(datum.x)"}],"mark":{"type":"line","interpolate":"monotone","color":"#111","strokeWidth":1.4,"strokeDash":[4,3]},"encoding":{"x":{"field":"x","type":"quantitative","axis":{"orient":"bottom","values":[-0.301,-0.222,-0.155,-0.097,-0.046,0,0.301,0.477,0.602,0.699,0.778,0.845,0.903,0.954,1,1.301,1.477,1.602,1.699,1.778,1.845,1.903,1.954,2,2.301,2.477,2.602,2.699,2.778,2.845,2.903,2.954,3,3.301,3.477,3.602,3.699,3.778,3.845,3.903,3.954,4],"labels":false,"domain":false,"tickSize":2,"title":null}},"y":{"field":"d","type":"quantitative","axis":{"orient":"left","values":[0,10,20,30,40,50,60,70,80,90,100,110,120,130,140,150],"labels":false,"domain":false,"tickSize":2,"title":null}}}},
{"transform":[{"filter":"isValid(datum.x)"}],"mark":{"type":"line","interpolate":"monotone","color":"#111","strokeWidth":1.25},"encoding":{"x":{"field":"x","type":"quantitative","axis":null},"y":{"field":"o","type":"quantitative","axis":null}}},
{"transform":[{"filter":"isValid(datum.pct)"}],"mark":{"type":"text","align":"left","baseline":"alphabetic","font":"Liberation Serif","fontSize":20,"color":"#111"},"encoding":{"x":{"datum":2.42,"axis":null},"y":{"datum":134,"axis":null},"text":{"field":"pct"}}},
{"transform":[{"filter":"isValid(datum.pct)"}],"mark":{"type":"text","align":"left","baseline":"alphabetic","font":"Liberation Serif","fontSize":20,"color":"#111"},"encoding":{"x":{"datum":2.42,"axis":null},"y":{"datum":107,"axis":null},"text":{"field":"mfi"}}}
]}},
{"data":{"name":"h"},"transform":[{"filter":"datum.c == 3"}],"title":{"text":"CD80"},"bounds":"flush","spacing":{"row":57},
"facet":{"row":{"field":"r","type":"ordinal","title":null,"header":{"labels":false}}},
"spec":{"width":147,"height":145,"resolve":{"axis":{"x":"independent","y":"independent"}},
"layer":[
{"transform":[{"filter":"isValid(datum.x)"}],"mark":{"type":"area","interpolate":"monotone"},"encoding":{"x":{"field":"x","type":"quantitative","scale":{"domain":[-0.3,4.1],"nice":false,"zero":false},"axis":{"values":[0,1,2,3,4],"labelExpr":"'10' + (datum.value == 0 ? '⁰' : datum.value == 1 ? '¹' : datum.value == 2 ? '²' : datum.value == 3 ? '³' : '⁴')","title":"APC-A: CD80 APC-A"}},"y":{"field":"f","type":"quantitative","scale":{"domain":[0,177],"nice":false},"axis":{"values":[0,50,100,150],"title":"Count"}},"color":{"field":"r","type":"ordinal","scale":{"domain":[1,2,3,4,5],"range":["#a9a9a9","#a5a5a5","#858585","#6e6e6e","#777777"]},"legend":null}}},
{"transform":[{"filter":"isValid(datum.x)"}],"mark":{"type":"line","interpolate":"monotone","color":"#111","strokeWidth":1.4,"strokeDash":[4,3]},"encoding":{"x":{"field":"x","type":"quantitative","axis":{"orient":"bottom","values":[-0.301,-0.222,-0.155,-0.097,-0.046,0,0.301,0.477,0.602,0.699,0.778,0.845,0.903,0.954,1,1.301,1.477,1.602,1.699,1.778,1.845,1.903,1.954,2,2.301,2.477,2.602,2.699,2.778,2.845,2.903,2.954,3,3.301,3.477,3.602,3.699,3.778,3.845,3.903,3.954,4],"labels":false,"domain":false,"tickSize":2,"title":null}},"y":{"field":"d","type":"quantitative","axis":{"orient":"left","values":[0,10,20,30,40,50,60,70,80,90,100,110,120,130,140,150,160,170],"labels":false,"domain":false,"tickSize":2,"title":null}}}},
{"transform":[{"filter":"isValid(datum.x)"}],"mark":{"type":"line","interpolate":"monotone","color":"#111","strokeWidth":1.25},"encoding":{"x":{"field":"x","type":"quantitative","axis":null},"y":{"field":"o","type":"quantitative","axis":null}}},
{"transform":[{"filter":"isValid(datum.pct)"}],"mark":{"type":"text","align":"left","baseline":"alphabetic","font":"Liberation Serif","fontSize":20,"color":"#111"},"encoding":{"x":{"datum":2.42,"axis":null},"y":{"datum":153,"axis":null},"text":{"field":"pct"}}},
{"transform":[{"filter":"isValid(datum.pct)"}],"mark":{"type":"text","align":"left","baseline":"alphabetic","font":"Liberation Serif","fontSize":20,"color":"#111"},"encoding":{"x":{"datum":2.42,"axis":null},"y":{"datum":122,"axis":null},"text":{"field":"mfi"}}}
]}},
{"data":{"name":"h"},"transform":[{"filter":"datum.c == 4"}],"title":{"text":"CD86"},"bounds":"flush","spacing":{"row":57},
"facet":{"row":{"field":"r","type":"ordinal","title":null,"header":{"labels":false}}},
"spec":{"width":144,"height":145,"resolve":{"axis":{"x":"independent","y":"independent"}},
"layer":[
{"transform":[{"filter":"isValid(datum.x)"}],"mark":{"type":"area","interpolate":"monotone"},"encoding":{"x":{"field":"x","type":"quantitative","scale":{"domain":[-0.3,4.1],"nice":false,"zero":false},"axis":{"values":[0,1,2,3,4],"labelExpr":"'10' + (datum.value == 0 ? '⁰' : datum.value == 1 ? '¹' : datum.value == 2 ? '²' : datum.value == 3 ? '³' : '⁴')","title":"APC-A: CD86 APC-A"}},"y":{"field":"f","type":"quantitative","scale":{"domain":[0,212],"nice":false},"axis":{"values":[0,50,100,150,200],"title":"Count"}},"color":{"field":"r","type":"ordinal","scale":{"domain":[1,2,3,4,5],"range":["#c6c6c6","#a9a9a9","#a3a3a3","#6e6e6e","#6e6e6e"]},"legend":null}}},
{"transform":[{"filter":"isValid(datum.x)"}],"mark":{"type":"line","interpolate":"monotone","color":"#111","strokeWidth":1.4,"strokeDash":[4,3]},"encoding":{"x":{"field":"x","type":"quantitative","axis":{"orient":"bottom","values":[-0.301,-0.222,-0.155,-0.097,-0.046,0,0.301,0.477,0.602,0.699,0.778,0.845,0.903,0.954,1,1.301,1.477,1.602,1.699,1.778,1.845,1.903,1.954,2,2.301,2.477,2.602,2.699,2.778,2.845,2.903,2.954,3,3.301,3.477,3.602,3.699,3.778,3.845,3.903,3.954,4],"labels":false,"domain":false,"tickSize":2,"title":null}},"y":{"field":"d","type":"quantitative","axis":{"orient":"left","values":[0,10,20,30,40,50,60,70,80,90,100,110,120,130,140,150,160,170,180,190,200,210],"labels":false,"domain":false,"tickSize":2,"title":null}}}},
{"transform":[{"filter":"isValid(datum.x)"}],"mark":{"type":"line","interpolate":"monotone","color":"#111","strokeWidth":1.25},"encoding":{"x":{"field":"x","type":"quantitative","axis":null},"y":{"field":"o","type":"quantitative","axis":null}}},
{"transform":[{"filter":"isValid(datum.pct)"}],"mark":{"type":"text","align":"left","baseline":"alphabetic","font":"Liberation Serif","fontSize":20,"color":"#111"},"encoding":{"x":{"datum":2.42,"axis":null},"y":{"datum":183,"axis":null},"text":{"field":"pct"}}},
{"transform":[{"filter":"isValid(datum.pct)"}],"mark":{"type":"text","align":"left","baseline":"alphabetic","font":"Liberation Serif","fontSize":20,"color":"#111"},"encoding":{"x":{"datum":2.42,"axis":null},"y":{"datum":146,"axis":null},"text":{"field":"mfi"}}}
]}}
]
}
